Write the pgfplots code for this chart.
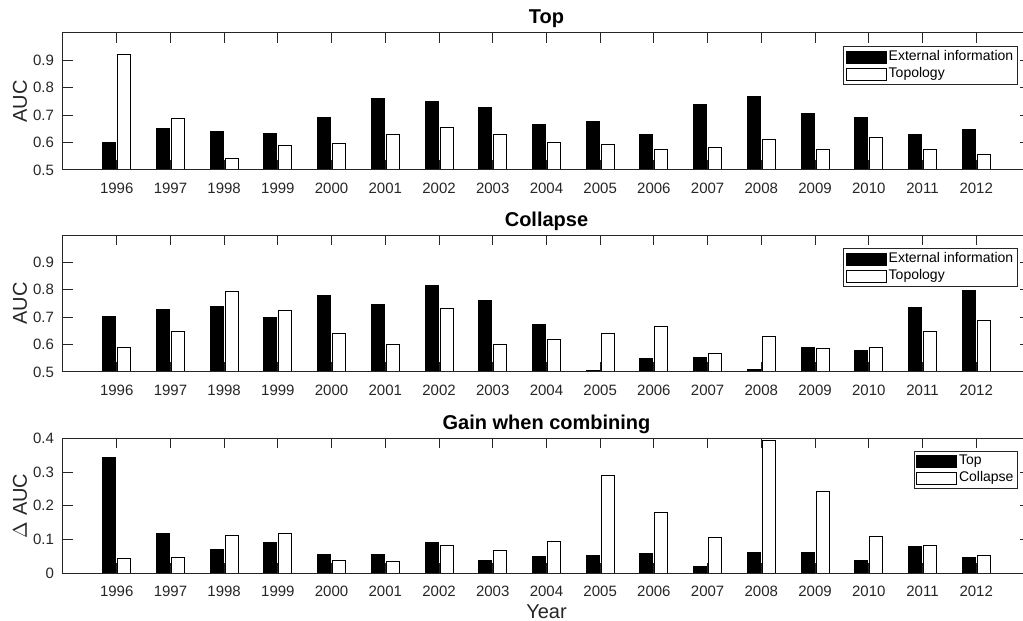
\documentclass[border=0pt]{standalone}
\usepackage{fontspec}
\setmainfont{Liberation Sans}
\usepackage{pgfplots}
\pgfplotsset{compat=1.18}
\definecolor{axgray}{HTML}{262626}
\pgfplotsset{
  panel/.style={
    scale only axis, width=483.5pt,
    xmin=1995, xmax=2013,
    xtick={1996,1997,...,2012},
    /pgf/number format/assume math mode=true,
    /pgf/number format/1000 sep={},
    tick pos=both, tick align=inside,
    major tick length=5pt,
    axis on top=true,
    axis line style={axgray, line width=0.5pt},
    every tick/.style={axgray, line width=0.5pt},
    tick label style={font=\fontsize{7.5}{9}\selectfont, text=axgray},
    xticklabel style={yshift=-3pt},
    yticklabel style={xshift=-1pt},
    every axis title shift=0pt,
    title style={font=\fontsize{10}{12}\selectfont\bfseries, at={(axis description cs:0.5,1)}, anchor=center, yshift=7pt},
    every axis y label/.style={at={(axis description cs:-0.0445,0.5)}, anchor=center, rotate=90, font=\fontsize{10}{12}\selectfont, text=axgray},
    legend style={font=\fontsize{7}{8.5}\selectfont, draw=axgray, line width=0.5pt, anchor=north east,
      inner xsep=1pt, inner ysep=1pt, row sep=0pt, nodes={inner sep=1pt}},
    legend image code/.code={\draw[#1] (0pt,-3pt) rectangle (20pt,3pt);},
    legend cell align=left,
  },
  blk/.style={ybar, bar width=6.5pt, bar shift=-3.75pt, fill=black, draw=black, line width=0.5pt},
  wht/.style={ybar, bar width=6.5pt, bar shift=3.75pt, fill=white, draw=black, line width=0.5pt},
}
\begin{document}
\begin{tikzpicture}
% Panel 1: Top
\begin{axis}[panel, at={(31.5pt,225.5pt)}, anchor=south west, height=68.5pt,
  ymin=0.5, ymax=1.0, ytick={0.5,0.6,0.7,0.8,0.9},
  title={Top}, ylabel={AUC},
  legend style={at={(axis description cs:0.9873,0.905)}}]
\addplot[blk] coordinates {(1996,0.602) (1997,0.652) (1998,0.641) (1999,0.635) (2000,0.690) (2001,0.761) (2002,0.749) (2003,0.729) (2004,0.666) (2005,0.678) (2006,0.631) (2007,0.738) (2008,0.770) (2009,0.705) (2010,0.691) (2011,0.628) (2012,0.648)};
\addplot[wht] coordinates {(1996,0.921) (1997,0.688) (1998,0.542) (1999,0.591) (2000,0.598) (2001,0.628) (2002,0.655) (2003,0.628) (2004,0.601) (2005,0.594) (2006,0.576) (2007,0.583) (2008,0.610) (2009,0.576) (2010,0.617) (2011,0.575) (2012,0.558)};
\legend{External information, Topology}
\end{axis}
% Panel 2: Collapse
\begin{axis}[panel, at={(31.5pt,124.5pt)}, anchor=south west, height=68.5pt,
  ymin=0.5, ymax=1.0, ytick={0.5,0.6,0.7,0.8,0.9},
  title={Collapse}, ylabel={AUC},
  legend style={at={(axis description cs:0.9873,0.905)}}]
\addplot[blk] coordinates {(1996,0.701) (1997,0.728) (1998,0.739) (1999,0.698) (2000,0.778) (2001,0.745) (2002,0.816) (2003,0.760) (2004,0.672) (2005,0.507) (2006,0.551) (2007,0.552) (2008,0.510) (2009,0.589) (2010,0.577) (2011,0.734) (2012,0.796)};
\addplot[wht] coordinates {(1996,0.591) (1997,0.646) (1998,0.794) (1999,0.726) (2000,0.640) (2001,0.599) (2002,0.732) (2003,0.601) (2004,0.620) (2005,0.640) (2006,0.666) (2007,0.568) (2008,0.630) (2009,0.585) (2010,0.591) (2011,0.648) (2012,0.688)};
\legend{External information, Topology}
\end{axis}
% Panel 3: Gain
\begin{axis}[panel, at={(31.5pt,23.85pt)}, anchor=south west, height=67.5pt,
  ymin=0, ymax=0.4, ytick={0,0.1,0.2,0.3,0.4},
  title={Gain when combining}, ylabel={$\Delta$ AUC},
  xlabel={Year},
  xlabel style={font=\fontsize{10}{12}\selectfont, text=axgray, at={(axis description cs:0.5,0)}, anchor=center, yshift=-19pt},
  legend style={at={(axis description cs:0.9876,0.908)}}]
\addplot[blk] coordinates {(1996,0.342) (1997,0.119) (1998,0.070) (1999,0.091) (2000,0.055) (2001,0.057) (2002,0.092) (2003,0.037) (2004,0.049) (2005,0.054) (2006,0.058) (2007,0.020) (2008,0.061) (2009,0.063) (2010,0.039) (2011,0.078) (2012,0.047)};
\addplot[wht] coordinates {(1996,0.045) (1997,0.048) (1998,0.113) (1999,0.117) (2000,0.038) (2001,0.035) (2002,0.083) (2003,0.068) (2004,0.095) (2005,0.290) (2006,0.180) (2007,0.107) (2008,0.394) (2009,0.243) (2010,0.108) (2011,0.083) (2012,0.053)};
\legend{Top, Collapse}
\end{axis}
\pgfresetboundingbox
\useasboundingbox (0,0) rectangle (511.5pt,310.5pt);
\end{tikzpicture}
\end{document}
